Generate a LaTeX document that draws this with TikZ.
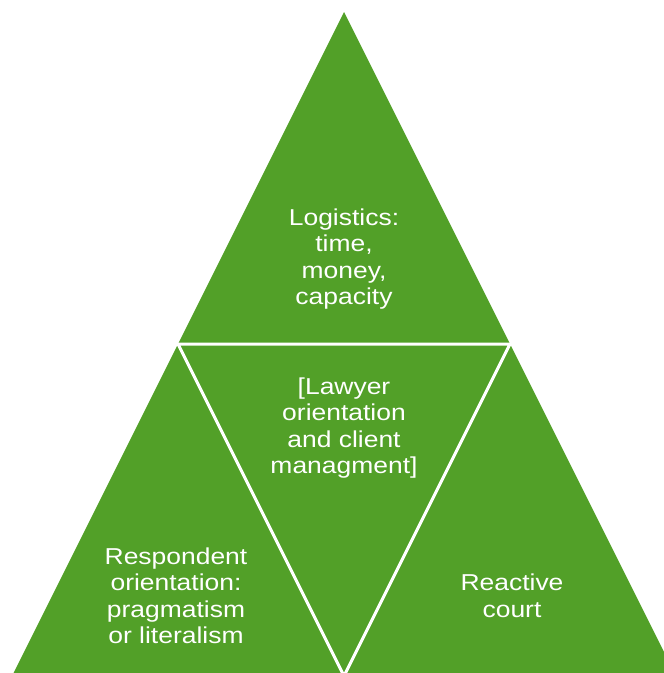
\documentclass[tikz,border=0pt]{standalone}
\usepackage{fontspec}
\setmainfont{Liberation Sans}[FakeStretch=1.15]
\definecolor{pyrgreen}{RGB}{82,160,40}
\begin{document}
\begin{tikzpicture}[x=1pt,y=-1pt,
  lbl/.style={text=white, align=center, inner sep=0pt, font=\fontsize{23}{26.5}\selectfont},
  gap/.style={draw=white, line width=3pt}]
\useasboundingbox (0,0) rectangle (664,673);
\clip (0,0) rectangle (664,673);
\coordinate (apex) at (344,12);
\coordinate (bl) at (12,676);
\coordinate (br) at (676,676);
\coordinate (ml) at (178,344);
\coordinate (mr) at (510,344);
\coordinate (mb) at (344,676);
\fill[pyrgreen] (apex) -- (br) -- (bl) -- cycle;
\draw[gap] (ml) -- (mr) -- (mb) -- cycle;
\node[lbl] (top) at (344,259) {Logistics:\\time,\\money,\\capacity};
\node[lbl] (mid) at (344,428) {[Lawyer\\orientation\\and client\\managment]};
\node[lbl] (left) at (176,596) {Respondent\\orientation:\\pragmatism\\or literalism};
\node[lbl] (right) at (512,596) {Reactive\\court};
\end{tikzpicture}
\end{document}
